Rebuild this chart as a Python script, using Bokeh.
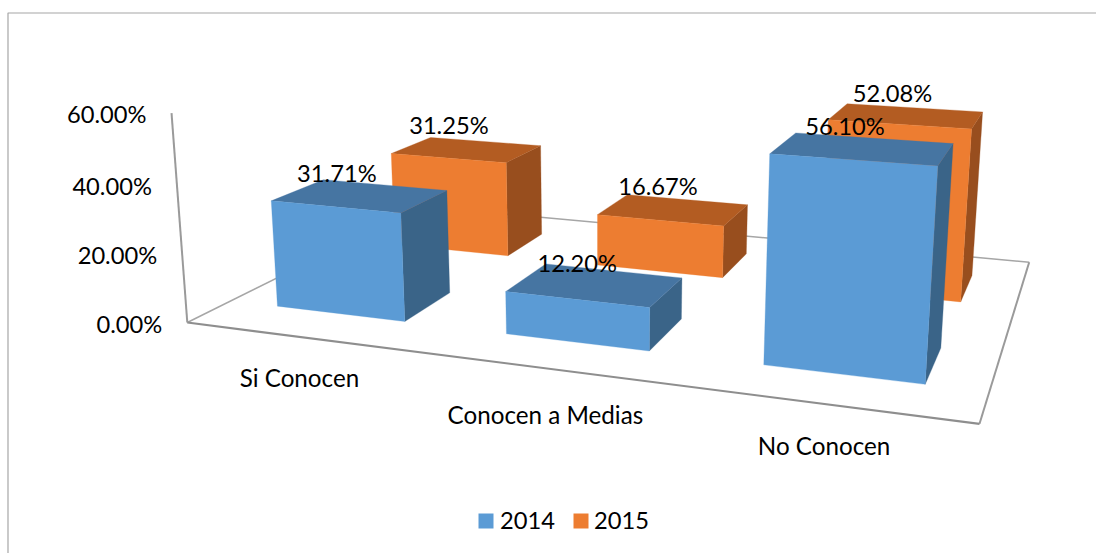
import numpy as np
from bokeh.plotting import figure
from bokeh.models import Range1d
from bokeh.core.properties import value
from bokeh.embed import file_html
from bokeh.resources import INLINE

# ---- data ----
categories = ["Si Conocen", "Conocen a Medias", "No Conocen"]
series_names = ["2014", "2015"]
values_2014 = [31.71, 12.20, 56.10]
values_2015 = [31.25, 16.67, 52.08]
tick_values = [0, 20, 40, 60]
tick_labels = ["0.00%", "20.00%", "40.00%", "60.00%"]

# ---- camera: (u = category, v = series depth, h = value) -> screen pixels ----
FLOOR_FRONT_LEFT = (186.8, 322.0)
FLOOR_FRONT_RIGHT = (979.0, 423.3)
FLOOR_BACK_RIGHT = (1028.7, 261.7)
FLOOR_BACK_LEFT = (421.0, 205.8)
VERTICAL = (-0.36598, -3.55757, -0.00060282)
U_PAD, V_PAD = 0.215, 0.30


def homography(src, dst):
    A, b = [], []
    for (u, v), (x, y) in zip(src, dst):
        A.append([u, v, 1, 0, 0, 0, -u * x, -v * x]); b.append(x)
        A.append([0, 0, 0, u, v, 1, -u * y, -v * y]); b.append(y)
    s = np.linalg.solve(np.array(A, float), np.array(b, float))
    return np.array([[s[0], s[1], s[2]], [s[3], s[4], s[5]], [s[6], s[7], 1.0]])


H = homography([(0, 0), (3, 0), (3, 2), (0, 2)],
               [FLOOR_FRONT_LEFT, FLOOR_FRONT_RIGHT, FLOOR_BACK_RIGHT, FLOOR_BACK_LEFT])


def proj(u, v, h=0.0):
    r = H @ np.array([u, v, 1.0]) + np.array(VERTICAL) * h
    return r[0] / r[2], r[1] / r[2]


W, HGT = 1096, 553
p = figure(width=W, height=HGT, output_backend="svg", toolbar_location=None,
           x_range=Range1d(0, W), y_range=Range1d(HGT, 0),
           min_border=0, outline_line_color=None, background_fill_color="white")
p.axis.visible = False
p.grid.visible = False

FONT = value("Lato")
FS = "23.7px"
FS_CAT = "24.2px"

# chart frame
p.line([7.5, 7.5, 1096], [553, 12.5, 12.5], line_color="#A6A6A6", line_width=1.2)


def seg(a, b, width, color="#9A9A9A"):
    p.line([a[0], b[0]], [a[1], b[1]], line_color=color, line_width=width)


# floor + vertical axis
seg(proj(0, 0), proj(0, 2), 1.5, "#A6A6A6")
seg(proj(0, 2), proj(3, 2), 1.5, "#A6A6A6")
seg(proj(3, 2), proj(3, 0), 2)
seg(proj(3, 0), proj(0, 0), 2.2, "#8E8E8E")
seg(proj(0, 0), proj(0, 0, tick_values[-1]), 2)

COLORS = {
    0: ("#5B9BD5", "#4675A2", "#3A6488"),
    1: ("#ED7D31", "#B35C22", "#984E1E"),
}
LABEL_OFFSET = {
    (0, 0): (-23.5, -23), (1, 0): (-18, -22), (2, 0): (-18, -23),
    (0, 1): (-18, -25), (1, 1): (-15.5, -24), (2, 1): (-14, -23),
}
series_values = [values_2014, values_2015]
labels = []


def poly(pts, color):
    p.patch([q[0] for q in pts], [q[1] for q in pts], fill_color=color, line_color=color,
            line_width=0.3)


for j in (1, 0):
    front, top, side = COLORS[j]
    for i, val in enumerate(series_values[j]):
        u0, u1 = i + U_PAD, i + 1 - U_PAD
        v0, v1 = j + V_PAD, j + 1 - V_PAD
        poly([proj(u1, v0), proj(u1, v1), proj(u1, v1, val), proj(u1, v0, val)], side)
        poly([proj(u0, v0, val), proj(u1, v0, val), proj(u1, v1, val), proj(u0, v1, val)], top)
        poly([proj(u0, v0), proj(u1, v0), proj(u1, v0, val), proj(u0, v0, val)], front)
        cx, cy = proj(i + 0.5, j + 0.5, val)
        dx, dy = LABEL_OFFSET[(i, j)]
        labels.append((cx + dx, cy + dy, f"{val:.2f}%"))

p.text([l[0] for l in labels], [l[1] for l in labels], text=[l[2] for l in labels],
       text_font=FONT, text_font_size=FS, text_color="#000000",
       text_align="center", text_baseline="middle")

# value axis labels
tp = [proj(0, 0, t) for t in tick_values]
p.text([q[0] - 25 for q in tp], [q[1] + 1 for q in tp], text=tick_labels,
       text_font=FONT, text_font_size=FS, text_color="#000000",
       text_align="right", text_baseline="middle")

# category labels
CAT_DROP = [40.6, 46, 41]
CAT_SHIFT = [-0.5, -1, -1.5]
cp = [proj(i + 0.5, 0) for i in range(len(categories))]
p.text([q[0] + s for q, s in zip(cp, CAT_SHIFT)], [q[1] + d for q, d in zip(cp, CAT_DROP)],
       text=categories, text_font=FONT, text_font_size=FS_CAT, text_color="#000000",
       text_align="center", text_baseline="middle")

# legend
LEG_X = [(478, 493, 499.5), (573, 588, 593.5)]
for (x0, x1, tx), name, j in zip(LEG_X, series_names, (0, 1)):
    p.quad(left=[x0], right=[x1], top=[513], bottom=[528], fill_color=COLORS[j][0], line_color=None)
    p.text([tx], [519.5], text=[name], text_font=FONT, text_font_size=FS, text_color="#000000",
           text_align="left", text_baseline="middle")

open("out.html", "w").write(file_html(p, INLINE))
